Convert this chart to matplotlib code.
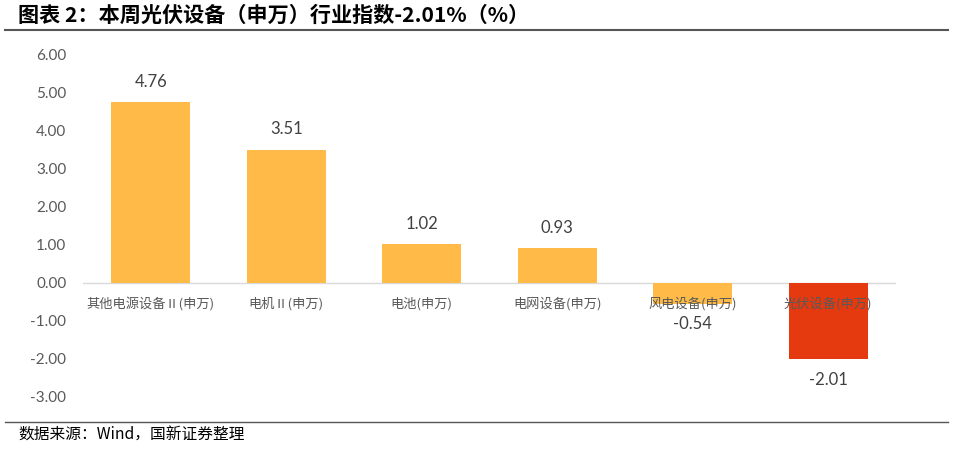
import matplotlib
matplotlib.use('Agg')
import matplotlib.pyplot as plt
from matplotlib.lines import Line2D

plt.rcParams['font.family'] = ['Noto Sans CJK SC', 'DejaVu Sans']

# data
categories = ['其他电源设备Ⅱ(申万)', '电机Ⅱ(申万)', '电池(申万)', '电网设备(申万)',
              '风电设备(申万)', '光伏设备(申万)']
values = [4.76, 3.51, 1.02, 0.93, -0.54, -2.01]
bar_colors = ['#FFBA47', '#FFBA47', '#FFBA47', '#FFBA47', '#FFBA47', '#E5390F']
yticks = [6, 5, 4, 3, 2, 1, 0, -1, -2, -3]

title = '图表 2：本周光伏设备（申万）行业指数-2.01%（%）'
source = '数据来源：Wind，国新证券整理'

W, H = 954, 450
fig = plt.figure(figsize=(W / 100, H / 100), dpi=100)
ax = fig.add_axes([83 / W, 1 - 397 / H, 813 / W, 342 / H])

x = list(range(len(categories)))
ax.bar(x, values, width=0.58, color=bar_colors, zorder=1)
ax.axhline(0, color='#D9D9D9', lw=1, zorder=0.5)
ax.set_axisbelow(False)  # category labels go over the bars

ax.set_xlim(-0.5, len(categories) - 0.5)
ax.set_ylim(-3, 6)
ax.set_yticks(yticks)
ax.set_yticklabels([f'{t:.2f}' for t in yticks], family=['Lato', 'DejaVu Sans'],
                   fontsize=11, color='#595959')
# category labels sit on the zero line, over the negative bars
ax.spines['bottom'].set_position(('data', 0))
ax.set_xticks(x)
ax.set_xticklabels(categories, fontsize=9.5, color='#595959')
ax.tick_params(axis='x', length=0, pad=10)
ax.tick_params(axis='y', length=0, pad=12)
for s in ax.spines.values():
    s.set_visible(False)

# value labels
for i, v in enumerate(values):
    off = 14.5 if v >= 0 else -14.5
    ax.annotate(f'{v:.2f}', (i, v), xytext=(0, off), textcoords='offset points',
                ha='center', va='center', fontsize=12, color='#404040',
                family=['Lato', 'DejaVu Sans'], zorder=3)

# title, rules and source
fig.text(18 / W, 1 - 15 / H, title, fontsize=15.2, weight='bold', va='center', color='black')
fig.add_artist(Line2D([5 / W, 948 / W], [1 - 30 / H] * 2, color='#555555', lw=1.5))
fig.add_artist(Line2D([5 / W, 948 / W], [1 - 422 / H] * 2, color='#555555', lw=1))
fig.text(18 / W, 1 - 435 / H, source, fontsize=11.3, va='center', color='black')

fig.savefig('out.png', dpi=100)
